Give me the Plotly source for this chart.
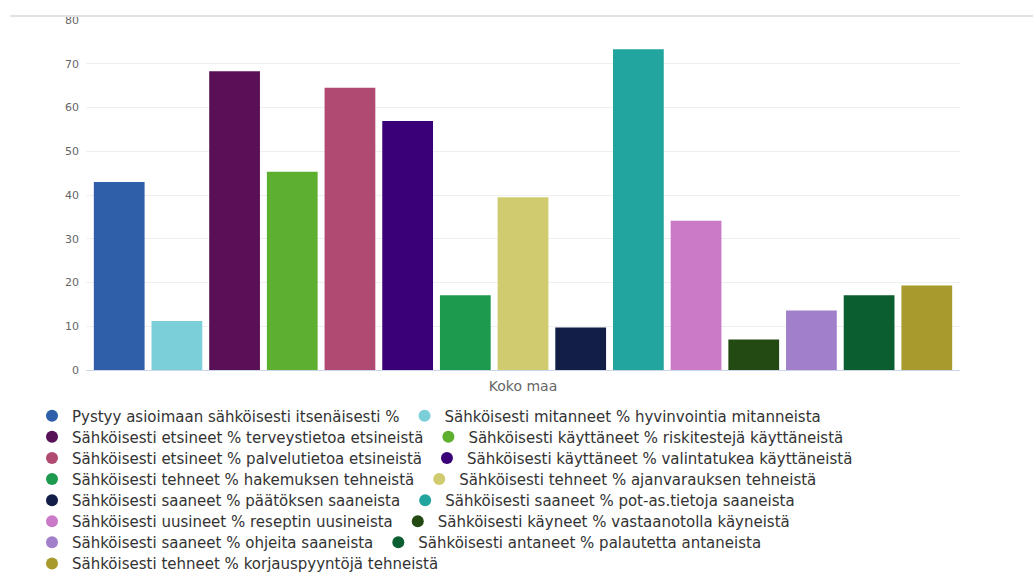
import plotly.graph_objects as go

category = ["Koko maa"]

series_names = [
    "Pystyy asioimaan sähköisesti itsenäisesti %",
    "Sähköisesti mitanneet % hyvinvointia mitanneista",
    "Sähköisesti etsineet % terveystietoa etsineistä",
    "Sähköisesti käyttäneet % riskitestejä käyttäneistä",
    "Sähköisesti etsineet % palvelutietoa etsineistä",
    "Sähköisesti käyttäneet % valintatukea käyttäneistä",
    "Sähköisesti tehneet % hakemuksen tehneistä",
    "Sähköisesti tehneet % ajanvarauksen tehneistä",
    "Sähköisesti saaneet % päätöksen saaneista",
    "Sähköisesti saaneet % pot-as.tietoja saaneista",
    "Sähköisesti uusineet % reseptin uusineista",
    "Sähköisesti käyneet % vastaanotolla käyneistä",
    "Sähköisesti saaneet % ohjeita saaneista",
    "Sähköisesti antaneet % palautetta antaneista",
    "Sähköisesti tehneet % korjauspyyntöjä tehneistä",
]

series_values = [43.0, 11.2, 68.3, 45.3, 64.5, 56.9, 17.1, 39.5, 9.7, 73.3,
                 34.1, 7.0, 13.6, 17.1, 19.3]

series_colors = [
    "#2f5fa9", "#7acfd8", "#5a1057", "#5daf2f", "#b04a72", "#3a0078",
    "#1e9a4e", "#cfcb6e", "#121e45", "#21a59e", "#cb7ac8", "#244a13",
    "#a17fcb", "#0b5e2f", "#a89a2c",
]

y_ticks = [0, 10, 20, 30, 40, 50, 60, 70, 80]

W, H = 1033, 572
FONT = "DejaVu Sans, Liberation Sans, Arial, sans-serif"
ITEMS_PER_ROW = 2
ROW0_Y, ROW_STEP = 416, 21.1   # legend row centres, px from top
LEGEND_LEFT = 32               # px
PLOT_TOP, PLOT_BOTTOM = 20, 370

n_rows = (len(series_names) + ITEMS_PER_ROW - 1) // ITEMS_PER_ROW
legend_ids = ["legend" if r == 0 else f"legend{r + 1}" for r in range(n_rows)]

fig = go.Figure()
for name, val, col in zip(series_names, series_values, series_colors):
    fig.add_trace(go.Bar(
        x=category, y=[val], name=name, marker_color=col,
        marker_line_width=0, showlegend=False, legendgroup=name,
        hovertemplate="%{y}<extra>" + name + "</extra>",
    ))
for i, (name, col) in enumerate(zip(series_names, series_colors)):
    fig.add_trace(go.Scatter(
        x=[None], y=[None], mode="markers", name=name, legendgroup=name,
        marker=dict(symbol="circle", size=12, color=col), showlegend=True,
        legend=legend_ids[i // ITEMS_PER_ROW],
    ))

legend_layout = {}
for r, lid in enumerate(legend_ids):
    yc = ROW0_Y + r * ROW_STEP
    legend_layout[lid] = dict(
        orientation="h", xref="container", yref="container",
        x=LEGEND_LEFT / W, xanchor="left", y=1 - yc / H, yanchor="middle",
        font=dict(family=FONT, size=15, color="#333333"),
        bgcolor="rgba(0,0,0,0)", borderwidth=0, traceorder="normal",
    )

plot_h = PLOT_BOTTOM - PLOT_TOP
cut_y = (PLOT_BOTTOM - 16) / plot_h

fig.update_layout(
    width=W, height=H,
    margin=dict(l=86, r=73, t=PLOT_TOP, b=H - PLOT_BOTTOM),
    paper_bgcolor="white", plot_bgcolor="white",
    font=dict(family=FONT, color="#333333"),
    barmode="group", bargap=0.01, bargroupgap=0.12,
    showlegend=True,
    xaxis=dict(
        showline=True, linecolor="#ccd6eb", linewidth=1, automargin=False,
        tickfont=dict(family=FONT, size=14, color="#666666"), ticks="",
        ticklabelstandoff=3, showgrid=False, fixedrange=True,
    ),
    yaxis=dict(
        range=[0, 80], tickvals=y_ticks, showgrid=True, gridcolor="#efefef",
        gridwidth=1, zeroline=False, showline=False, automargin=False,
        tickfont=dict(family=FONT, size=11, color="#666666"), ticks="",
        ticklabelstandoff=6,
    ),
    shapes=[
        dict(type="rect", xref="paper", yref="paper", x0=-0.3, x1=1.2,
             y0=cut_y, y1=1.2, fillcolor="white", line_width=0,
             layer="above"),
        dict(type="line", xref="paper", yref="paper", x0=(10 - 86) / 874,
             x1=1.2, y0=cut_y, y1=cut_y,
             line=dict(color="#e2e2e2", width=2), layer="above"),
    ],
    **legend_layout,
)

fig.write_html("out.html")
